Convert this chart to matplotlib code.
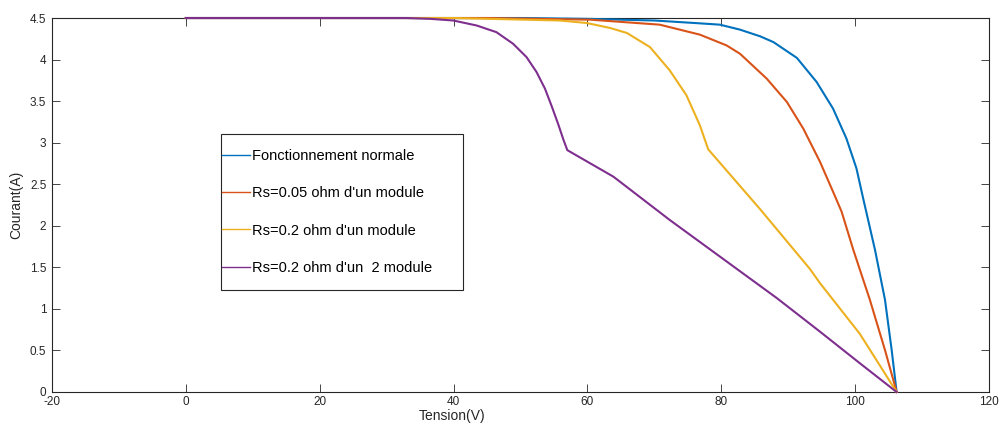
import matplotlib
matplotlib.use("Agg")
import matplotlib.pyplot as plt
from matplotlib.patches import Rectangle

plt.rcParams['font.family'] = ['Liberation Sans', 'DejaVu Sans']
plt.rcParams['axes.unicode_minus'] = False

# Courbes I-V relevées (tension en V, courant en A)
v_normal = [0, 50, 60, 70, 76, 79.8, 82.8, 85.8, 87.8, 91.3, 94.25, 96.7, 98.7,
            100.2, 101.2, 102.97, 104.46, 105.46, 106.2]
i_normal = [4.5, 4.5, 4.49, 4.47, 4.44, 4.42, 4.36, 4.28, 4.21, 4.02, 3.73, 3.41, 3.05,
            2.69, 2.33, 1.71, 1.11, 0.505, 0.0]

v_rs005 = [0, 45, 60.4, 70.8, 76.8, 80.8, 82.8, 84.8, 86.8, 89.8, 92.25, 94.75, 96.7,
           97.98, 99.73, 102.2, 104.46, 106.2]
i_rs005 = [4.5, 4.5, 4.48, 4.42, 4.30, 4.17, 4.07, 3.92, 3.77, 3.49, 3.17, 2.77, 2.41,
           2.17, 1.71, 1.11, 0.505, 0.0]

v_rs02 = [0, 40, 55.9, 59.9, 63.4, 65.9, 69.35, 72.3, 74.8, 76.8, 78.05, 85.8, 93.25,
          94.75, 100.7, 106.2]
i_rs02 = [4.5, 4.5, 4.47, 4.44, 4.38, 4.32, 4.15, 3.87, 3.57, 3.21, 2.92, 2.2, 1.48,
          1.31, 0.70, 0.0]

v_rs02_2m = [0, 33, 36.5, 39.96, 43.45, 46.4, 48.9, 50.9, 52.4, 53.66, 54.66, 55.65,
             56.4, 57.0, 63.9, 72.3, 88.3, 94.75, 100.72, 106.2]
i_rs02_2m = [4.5, 4.5, 4.49, 4.47, 4.41, 4.33, 4.19, 4.03, 3.85, 3.65, 3.44, 3.22,
             3.04, 2.91, 2.59, 2.07, 1.13, 0.726, 0.345, 0.0]

labels = ["Fonctionnement normale",
          "Rs=0.05 ohm d'un module",
          "Rs=0.2 ohm d'un module",
          "Rs=0.2 ohm d'un  2 module"]
colors = ['#0072BD', '#D95319', '#EDB120', '#7E2F8E']

fig = plt.figure(figsize=(10.01, 4.33), dpi=100)
ax = fig.add_axes([0.0519, 0.0947, 0.9361, 0.8637])

curves = [(v_normal, i_normal), (v_rs005, i_rs005), (v_rs02, i_rs02), (v_rs02_2m, i_rs02_2m)]
for (v, i), c, lab in zip(curves, colors, labels):
    ax.plot(v, i, color=c, lw=1.5, label=lab, zorder=3, clip_on=False,
            solid_joinstyle='round')

ax.set_xlim(-20, 120)
ax.set_ylim(0, 4.5)
ax.set_xticks(range(-20, 121, 20))
ax.set_yticks([0, 0.5, 1, 1.5, 2, 2.5, 3, 3.5, 4, 4.5])
ax.set_yticklabels(['0', '0.5', '1', '1.5', '2', '2.5', '3', '3.5', '4', '4.5'])

axcol = '#262626'
for s in ax.spines.values():
    s.set_color(axcol)
    s.set_linewidth(0.8)
ax.tick_params(direction='in', length=6, width=0.6, color=axcol, labelcolor=axcol,
               labelsize=8.5, top=True, right=True)
ax.tick_params(axis='x', pad=3)
ax.tick_params(axis='y', pad=4)

ax.set_xlabel('Tension(V)', fontsize=10, color=axcol, va='top')
ax.xaxis.set_label_coords(0.427, -0.045)
ax.set_ylabel('Courant(A)', fontsize=10, color=axcol)
ax.yaxis.set_label_coords(-0.031, 0.5)

# cadre de la légende
ax.add_patch(Rectangle((0.18, 0.273), 0.259, 0.417, transform=ax.transAxes,
                       facecolor='white', edgecolor=axcol, lw=0.8, zorder=4))
leg = ax.legend(loc='upper left', bbox_to_anchor=(0.1814, 0.65), frameon=False,
                fontsize=10.5, handlelength=1.9, handletextpad=0.15, labelspacing=1.6,
                borderpad=0, borderaxespad=0)
leg.set_zorder(5)
for ln in leg.get_lines():
    ln.set_linewidth(1.0)

fig.savefig('out.png', dpi=100)
